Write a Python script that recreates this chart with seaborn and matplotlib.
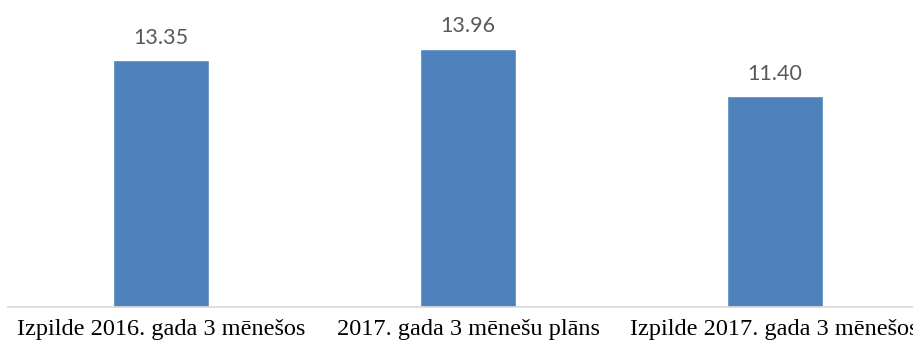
import pandas as pd
import seaborn as sns
import matplotlib.pyplot as plt

# Chart data
categories = ["Izpilde 2016. gada 3 mēnešos", "2017. gada 3 mēnešu plāns", "Izpilde 2017. gada 3 mēnešos"]
values = [13.35, 13.96, 11.40]

df = pd.DataFrame({"category": categories, "value": values})

sns.set_style("white")

fig = plt.figure(figsize=(9.13, 3.5), dpi=100)
# axes span a bit beyond the right edge so the last label gets cut like the original
ax = fig.add_axes([8 / 913, 43 / 350, 920 / 913, 307 / 350])

sns.barplot(data=df, x="category", y="value", color="#4F81BD", saturation=1,
            width=0.313, ax=ax)

ax.set_ylim(0, 16.6)
ax.set_xlim(-0.5, 2.5)
ax.set_xlabel("")
ax.set_ylabel("")
ax.set_yticks([])
ax.tick_params(axis="x", length=0, pad=9)
for lbl in ax.get_xticklabels():
    lbl.set_fontfamily("Liberation Serif")
    lbl.set_fontsize(17.5)
    lbl.set_color("black")

for side in ["top", "left", "right"]:
    ax.spines[side].set_visible(False)
ax.spines["bottom"].set_color("#D9D9D9")
ax.spines["bottom"].set_linewidth(1.2)

# value labels above the bars
for i, v in enumerate(values):
    ax.annotate(f"{v:.2f}", (i, v), xytext=(0, 9), textcoords="offset points",
                ha="center", va="bottom", fontsize=15.5, color="#595959",
                fontfamily="Lato")

fig.savefig("out.png", dpi=100)
plt.close(fig)
